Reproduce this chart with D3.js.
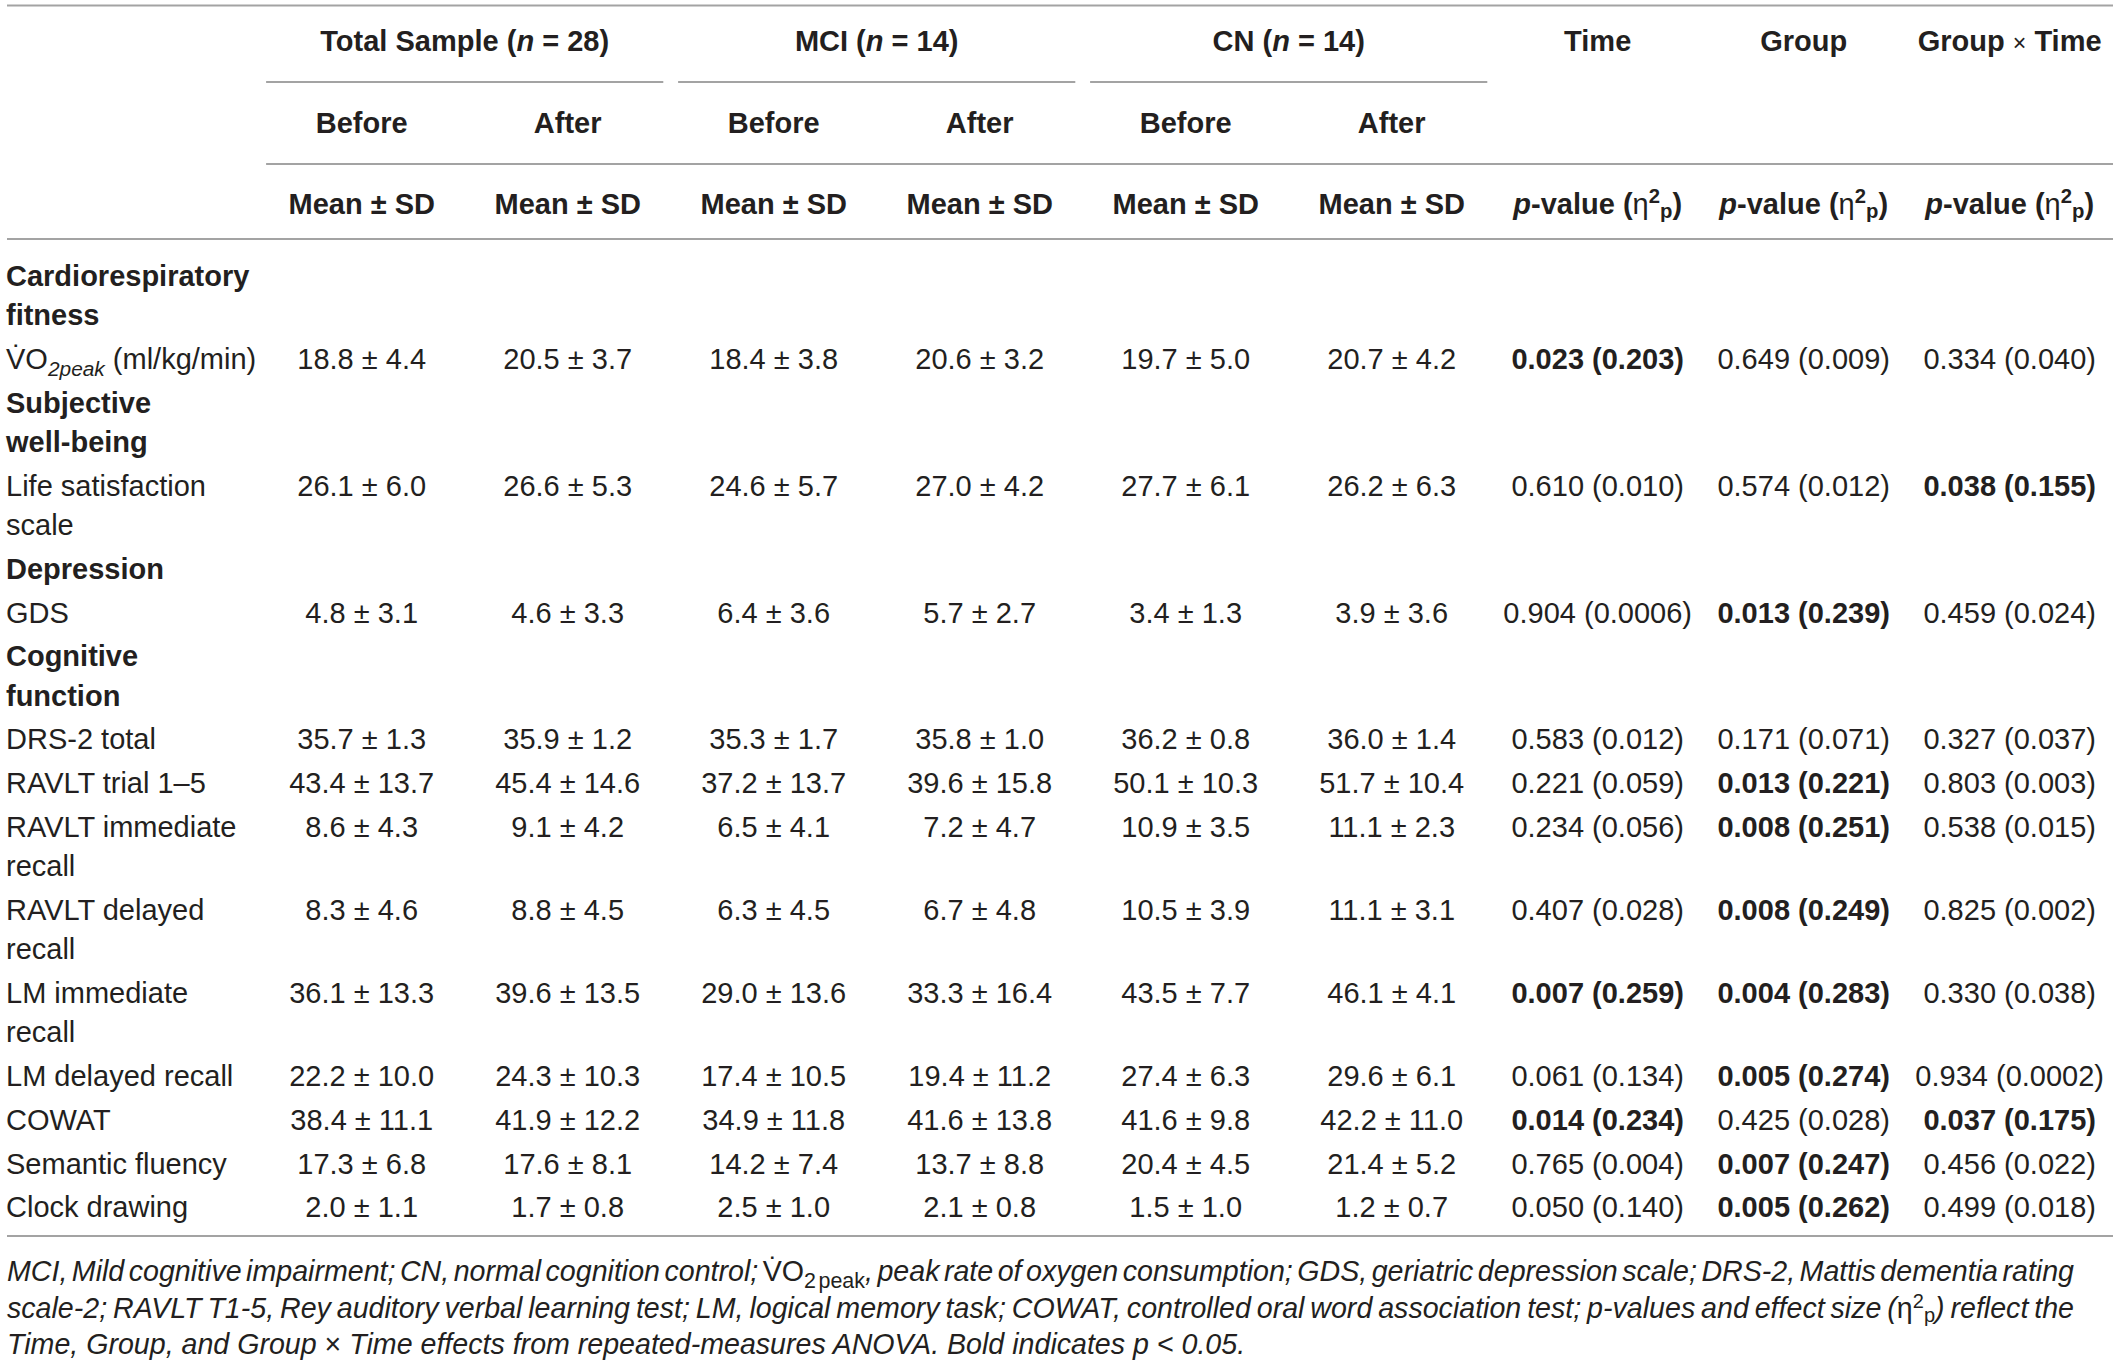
<!DOCTYPE html>
<html>
<head>
<meta charset="utf-8">
<script src="https://cdn.jsdelivr.net/npm/d3@7"></script>
<style>
  html, body { margin: 0; padding: 0; background: #ffffff; }
  svg { display: block; }
  text { font-family: "Liberation Sans", Arial, Helvetica, sans-serif; fill: #231f20; }
</style>
</head>
<body>
<svg id="chart" width="2118" height="1366"></svg>
<script>
// ---------- DATA ----------
const groupNames = ["Total Sample", "MCI", "CN"];
const groupN = [28, 14, 14];
const phaseNames = ["Before", "After"];
const effectNames = ["Time", "Group", "Group × Time"];

const sectionLabels = [["Cardiorespiratory", "fitness"], ["Subjective", "well-being"], ["Depression"], ["Cognitive", "function"]];
const sectionFirstMeasure = [0, 1, 2, 3];

const measureLabels = [
  ["VO2peak (ml/kg/min)"],
  ["Life satisfaction", "scale"],
  ["GDS"],
  ["DRS-2 total"],
  ["RAVLT trial 1–5"],
  ["RAVLT immediate", "recall"],
  ["RAVLT delayed", "recall"],
  ["LM immediate", "recall"],
  ["LM delayed recall"],
  ["COWAT"],
  ["Semantic fluency"],
  ["Clock drawing"]
];

const totalBefore = [[18.8,4.4],[26.1,6.0],[4.8,3.1],[35.7,1.3],[43.4,13.7],[8.6,4.3],[8.3,4.6],[36.1,13.3],[22.2,10.0],[38.4,11.1],[17.3,6.8],[2.0,1.1]];
const totalAfter  = [[20.5,3.7],[26.6,5.3],[4.6,3.3],[35.9,1.2],[45.4,14.6],[9.1,4.2],[8.8,4.5],[39.6,13.5],[24.3,10.3],[41.9,12.2],[17.6,8.1],[1.7,0.8]];
const mciBefore   = [[18.4,3.8],[24.6,5.7],[6.4,3.6],[35.3,1.7],[37.2,13.7],[6.5,4.1],[6.3,4.5],[29.0,13.6],[17.4,10.5],[34.9,11.8],[14.2,7.4],[2.5,1.0]];
const mciAfter    = [[20.6,3.2],[27.0,4.2],[5.7,2.7],[35.8,1.0],[39.6,15.8],[7.2,4.7],[6.7,4.8],[33.3,16.4],[19.4,11.2],[41.6,13.8],[13.7,8.8],[2.1,0.8]];
const cnBefore    = [[19.7,5.0],[27.7,6.1],[3.4,1.3],[36.2,0.8],[50.1,10.3],[10.9,3.5],[10.5,3.9],[43.5,7.7],[27.4,6.3],[41.6,9.8],[20.4,4.5],[1.5,1.0]];
const cnAfter     = [[20.7,4.2],[26.2,6.3],[3.9,3.6],[36.0,1.4],[51.7,10.4],[11.1,2.3],[11.1,3.1],[46.1,4.1],[29.6,6.1],[42.2,11.0],[21.4,5.2],[1.2,0.7]];

const timeP    = [0.023,0.610,0.904,0.583,0.221,0.234,0.407,0.007,0.061,0.014,0.765,0.050];
const timeEta  = [0.203,0.010,0.0006,0.012,0.059,0.056,0.028,0.259,0.134,0.234,0.004,0.140];
const groupP   = [0.649,0.574,0.013,0.171,0.013,0.008,0.008,0.004,0.005,0.425,0.007,0.005];
const groupEta = [0.009,0.012,0.239,0.071,0.221,0.251,0.249,0.283,0.274,0.028,0.247,0.262];
const gxtP     = [0.334,0.038,0.459,0.327,0.803,0.538,0.825,0.330,0.934,0.037,0.456,0.499];
const gxtEta   = [0.040,0.155,0.024,0.037,0.003,0.015,0.002,0.038,0.0002,0.175,0.022,0.018];
const alpha = 0.05;

// ---------- LAYOUT ----------
const W = 2118, H = 1366;
const FS = 29;
const ruleColor = "#a3a3a3";
const svg = d3.select("#chart");
svg.append("rect").attr("width", W).attr("height", H).attr("fill", "#fff");

const descCols = [totalBefore, totalAfter, mciBefore, mciAfter, cnBefore, cnAfter];
const effP = [timeP, groupP, gxtP];
const effEta = [timeEta, groupEta, gxtEta];

const x = d3.scaleBand().domain(d3.range(9)).range([258.7, 2112.7]).padding(0);
const cx = i => x(i) + x.bandwidth() / 2;
const pad = 7.4;
const left = 7, right = 2113;

// rows
const rows = [];
sectionLabels.forEach((s, si) => {
  rows.push({ type: "section", lines: s });
  const start = sectionFirstMeasure[si];
  const end = si + 1 < sectionFirstMeasure.length ? sectionFirstMeasure[si + 1] : measureLabels.length;
  for (let m = start; m < end; m++) rows.push({ type: "measure", lines: measureLabels[m], m });
});
const lineH = 39.2, rowH = 43.8, bodyTop = 254;
let yCursor = bodyTop;
rows.forEach(r => {
  r.top = yCursor;
  r.h = rowH + lineH * (r.lines.length - 1);
  yCursor += r.h;
});

function rule(x1, x2, yy) {
  svg.append("line").attr("x1", x1).attr("x2", x2).attr("y1", yy).attr("y2", yy)
    .attr("stroke", ruleColor).attr("stroke-width", 2);
}

// ---------- HEADER ----------
const hdr = svg.append("g");
const h1 = 41, h2 = 123, h3 = 204;
rule(left, right, 5.5);
groupNames.forEach((g, gi) => {
  const c = (cx(2 * gi) + cx(2 * gi + 1)) / 2;
  const t = hdr.append("text").attr("x", c).attr("y", h1).attr("dy", "0.35em")
    .attr("text-anchor", "middle").attr("font-size", FS).attr("font-weight", "bold");
  t.append("tspan").text(g + " (");
  t.append("tspan").attr("font-style", "italic").text("n");
  t.append("tspan").text(" = " + groupN[gi] + ")");
  rule(x(2 * gi) + pad, x(2 * gi + 1) + x.bandwidth() - pad, 82);
  phaseNames.forEach((p, pi) => {
    hdr.append("text").attr("x", cx(2 * gi + pi)).attr("y", h2).attr("dy", "0.35em")
      .attr("text-anchor", "middle").attr("font-size", FS).attr("font-weight", "bold").text(p);
  });
});
rule(x(0) + pad, right, 164);
effectNames.forEach((e, ei) => {
  const t = hdr.append("text").attr("x", cx(6 + ei)).attr("y", h1).attr("dy", "0.35em")
    .attr("text-anchor", "middle").attr("font-size", FS).attr("font-weight", "bold");
  if (e.includes("×")) {
    const parts = e.split("×");
    t.append("tspan").text(parts[0]);
    t.append("tspan").attr("font-weight", "normal").attr("font-size", FS * 0.8).text("×");
    t.append("tspan").text(parts[1]);
  } else t.text(e);
});
for (let i = 0; i < 6; i++) {
  hdr.append("text").attr("x", cx(i)).attr("y", h3).attr("dy", "0.35em")
    .attr("text-anchor", "middle").attr("font-size", FS).attr("font-weight", "bold").text("Mean ± SD");
}
for (let i = 0; i < 3; i++) {
  const t = hdr.append("text").attr("x", cx(6 + i)).attr("y", h3).attr("dy", "0.35em")
    .attr("text-anchor", "middle").attr("font-size", FS).attr("font-weight", "bold");
  t.append("tspan").attr("font-style", "italic").text("p");
  t.append("tspan").text("-value (");
  t.append("tspan").attr("font-weight", "normal").text("η");
  t.append("tspan").attr("font-size", FS * 0.7).attr("dy", -11).text("2");
  t.append("tspan").attr("font-size", FS * 0.7).attr("dy", 15).text("p");
  t.append("tspan").attr("dy", -4).text(")");
}
rule(left, right, 239);

// ---------- BODY ----------
const body = svg.append("g");
const fmtM = d3.format(".1f");
const fmtP = v => (v < 0.001 ? d3.format(".4f")(v) : d3.format(".3f")(v));

function drawLabel(r) {
  r.lines.forEach((ln, li) => {
    const t = body.append("text").attr("x", left - 1).attr("y", r.top + 21.9 + li * lineH).attr("dy", "0.35em")
      .attr("font-size", FS).attr("font-weight", r.type === "section" ? "bold" : "normal");
    if (ln.startsWith("VO2peak")) {
      t.append("tspan").text("V\u0307O");
      t.append("tspan").attr("font-size", FS * 0.72).attr("font-style", "italic").attr("dy", 7).text("2peak");
      t.append("tspan").attr("dy", -7).text(ln.replace("VO2peak", ""));
    } else t.text(ln);
  });
}

rows.forEach(r => {
  drawLabel(r);
  if (r.type !== "measure") return;
  const yy = r.top + 21.9;
  descCols.forEach((col, ci) => {
    const v = col[r.m];
    body.append("text").attr("x", cx(ci)).attr("y", yy).attr("dy", "0.35em")
      .attr("text-anchor", "middle").attr("font-size", FS)
      .text(fmtM(v[0]) + " ± " + fmtM(v[1]));
  });
  effP.forEach((pArr, ei) => {
    const p = pArr[r.m], eta = effEta[ei][r.m];
    body.append("text").attr("x", cx(6 + ei)).attr("y", yy).attr("dy", "0.35em")
      .attr("text-anchor", "middle").attr("font-size", FS)
      .attr("font-weight", p < alpha ? "bold" : "normal")
      .text(fmtP(p) + " (" + fmtP(eta) + ")");
  });
});
rule(left, right, 1236);

// ---------- FOOTNOTE ----------
const FFS = 28.6;
const foot = svg.append("g");
const footY = [1271, 1308, 1344];
const footTarget = 2074;
function footLine(i, parts, justify) {
  const t = foot.append("text").attr("x", left).attr("y", footY[i]).attr("dy", "0.35em")
    .attr("font-size", FFS).attr("font-style", "italic");
  parts.forEach(p => {
    const s = t.append("tspan").text(p.t);
    if (p.up) s.attr("font-style", "normal");
    if (p.fs) s.attr("font-size", p.fs);
    if (p.dy) s.attr("dy", p.dy);
  });
  if (justify) {
    const w = t.node().getComputedTextLength();
    const nSpaces = parts.map(p => p.t).join("").split(" ").length - 1;
    t.attr("word-spacing", (footTarget - left - w) / nSpaces);
  }
}
footLine(0, [
  { t: "MCI, Mild cognitive impairment; CN, normal cognition control; " },
  { t: "V\u0307O", up: true },
  { t: "2 peak", up: true, fs: FFS * 0.75, dy: 7 },
  { t: ", peak rate of oxygen consumption; GDS, geriatric depression scale; DRS-2, Mattis dementia rating", dy: -7 }
], true);
footLine(1, [
  { t: "scale-2; RAVLT T1-5, Rey auditory verbal learning test; LM, logical memory task; COWAT, controlled oral word association test; p-values and effect size (" },
  { t: "η", up: true },
  { t: "2", up: true, fs: FFS * 0.7, dy: -10 },
  { t: "p", up: true, fs: FFS * 0.7, dy: 14 },
  { t: ") reflect the", dy: -4 }
], true);
footLine(2, [
  { t: "Time, Group, and Group " },
  { t: "×", up: true },
  { t: " Time effects from repeated-measures ANOVA. Bold indicates p < 0.05." }
], false);
</script>
</body>
</html>
